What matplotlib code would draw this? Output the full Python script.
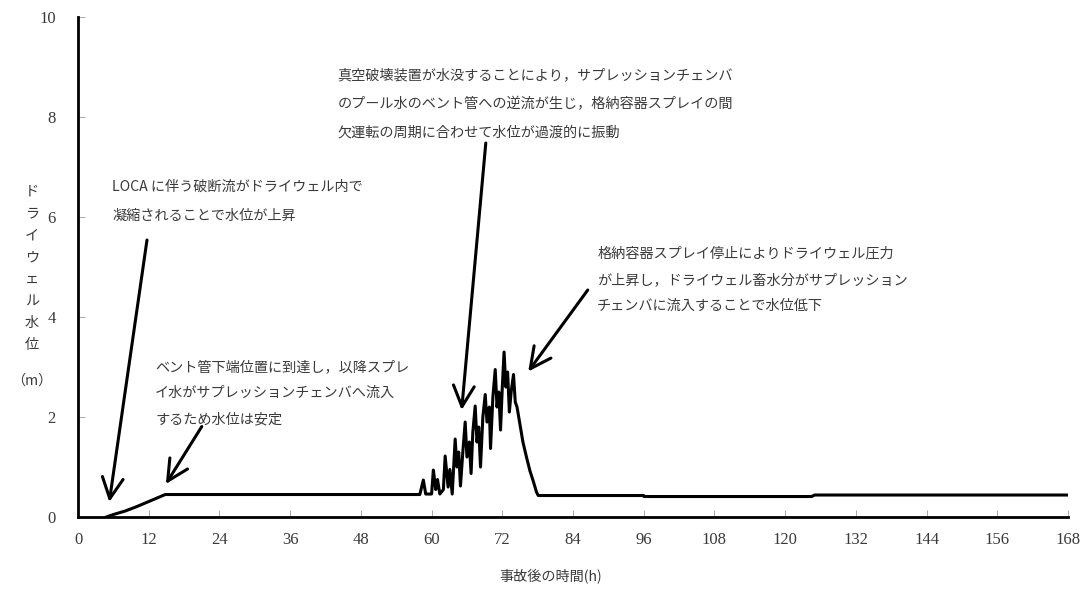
import matplotlib
matplotlib.use("Agg")
import matplotlib.pyplot as plt

# drywell water level (m) vs time after accident (h)
time_h = [4.8, 6.0, 8.0, 10.0, 12.0, 14.8,
          58.0, 58.6, 59.0, 60.0, 60.3, 60.7, 61.0, 61.4, 62.0, 62.3, 62.8, 63.1, 63.5,
          64.0, 64.3, 64.6, 64.9, 65.3, 65.7, 66.0, 66.4, 66.7, 67.0, 67.4, 67.7, 68.0,
          68.3, 68.7, 69.1, 69.4, 69.8, 70.0, 70.4, 70.8, 71.1, 71.4, 71.7, 72.0, 72.3,
          72.6, 72.9, 73.2, 73.5, 73.9, 74.2, 74.5, 75.0, 75.5, 76.1, 76.7, 77.3, 77.8,
          78.1, 96.0, 96.05, 102.5, 124.5, 125.0, 168.0]
level_m = [0.0, 0.05, 0.12, 0.21, 0.31, 0.45,
           0.45, 0.74, 0.46, 0.46, 0.94, 0.55, 0.75, 0.46, 0.55, 1.22, 0.60, 0.95, 0.46,
           1.56, 1.00, 1.30, 0.62, 1.30, 1.90, 1.20, 1.50, 0.87, 1.70, 2.22, 1.50, 1.80,
           1.00, 2.00, 2.45, 1.90, 2.20, 1.37, 2.40, 2.95, 2.20, 2.50, 1.74, 2.60, 3.30,
           2.60, 2.90, 2.10, 2.50, 2.85, 2.30, 2.20, 1.85, 1.50, 1.20, 0.92, 0.70, 0.50,
           0.43, 0.43, 0.41, 0.41, 0.41, 0.44, 0.44]

x_ticks = list(range(0, 169, 12))
y_ticks = [0, 2, 4, 6, 8, 10]

notes = [
    "LOCA に伴う破断流がドライウェル内で\n凝縮されることで水位が上昇",
    "ベント管下端位置に到達し，以降スプレ\nイ水がサプレッションチェンバへ流入\nするため水位は安定",
    "真空破壊装置が水没することにより，サプレッションチェンバ\nのプール水のベント管への逆流が生じ，格納容器スプレイの間\n欠運転の周期に合わせて水位が過渡的に振動",
    "格納容器スプレイ停止によりドライウェル圧力\nが上昇し，ドライウェル畜水分がサプレッション\nチェンバに流入することで水位低下",
]
note_xy = [(5.8, 6.74), (13.1, 3.14), (44.0, 8.98), (88.1, 5.40)]
note_spacing = [2.3, 2.1, 2.3, 2.1]
arrow_tail = [(11.7, 5.54), (21.0, 1.81), (69.2, 7.48), (86.5, 4.54)]
arrow_tip = [(5.3, 0.30), (14.9, 0.66), (65.1, 2.14), (76.4, 2.91)]

jp = ["Noto Sans CJK JP", "DejaVu Sans"]
txt_col = "#3a3a3a"

fig = plt.figure(figsize=(10.87, 5.89), dpi=100)
ax = fig.add_axes([0.0718, 0.1222, 0.9107, 0.8489])

ax.plot(time_h, level_m, color="black", lw=2.2, solid_joinstyle="round")

ax.set_xlim(0, 168)
ax.set_ylim(0, 10)
ax.set_xticks(x_ticks)
ax.set_yticks(y_ticks)
for s in ["top", "right"]:
    ax.spines[s].set_visible(False)
for s in ["left", "bottom"]:
    ax.spines[s].set_linewidth(2.0)
ax.tick_params(direction="in", length=5, width=0.6, color="#999999",
               labelcolor=txt_col, labelsize=12)
ax.tick_params(axis="y", pad=16)
ax.tick_params(axis="x", pad=11)
for lab in ax.get_xticklabels() + ax.get_yticklabels():
    lab.set_family("Liberation Serif")

for txt, (tx, ty), ls in zip(notes, note_xy, note_spacing):
    ax.text(tx, ty, txt, ha="left", va="top", fontsize=10.2, color=txt_col,
            family=jp, linespacing=ls)

for tail, tip in zip(arrow_tail, arrow_tip):
    ax.annotate("", xy=tip, xytext=tail,
                arrowprops=dict(arrowstyle="->,head_length=1.5,head_width=0.75",
                                color="black", lw=2.2, shrinkA=0, shrinkB=0))

fig.text(32 / 1087, 1 - 268 / 589, "\n".join("ドライウェル水位"), ha="center", va="center",
         fontsize=10.2, color=txt_col, family=jp, linespacing=1.72)
fig.text(32 / 1087, 1 - 381 / 589, "（m）", ha="center", va="center",
         fontsize=10.2, color=txt_col, family=jp)
fig.text(551 / 1087, 1 - 577 / 589, "事故後の時間(h)", ha="center", va="center",
         fontsize=10.2, color=txt_col, family=jp)

fig.savefig("out.png", dpi=100)
